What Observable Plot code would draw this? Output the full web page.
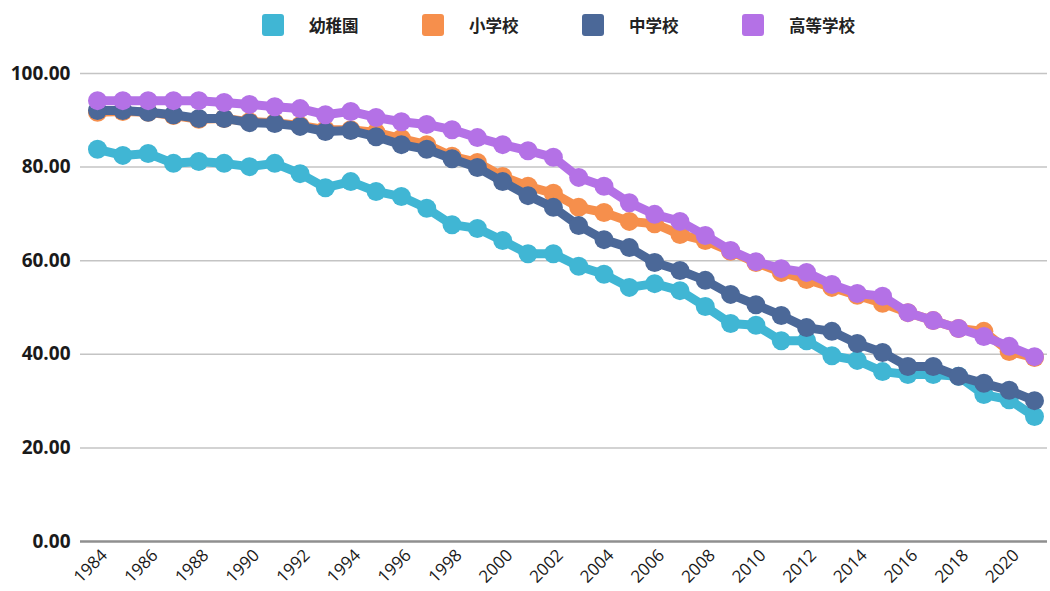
<!DOCTYPE html>
<html>
<head>
<meta charset="utf-8">
<script src="https://cdn.jsdelivr.net/npm/d3@7"></script>
<script src="https://cdn.jsdelivr.net/npm/@observablehq/plot@0.6"></script>
<style>
  html, body { margin: 0; padding: 0; background: #fff; }
  body { width: 1050px; height: 591px; overflow: hidden; font-family: "Open Sans", "Noto Sans CJK JP", sans-serif; }
  #legend { height: 50px; display: flex; align-items: center; justify-content: flex-start; padding-left: 262px; box-sizing: border-box; font-family: "Noto Sans CJK JP", sans-serif; font-weight: 700; font-size: 16.5px; color: #222; }
  .item { display: flex; align-items: center; width: 160px; }
  .sw { width: 22px; height: 22px; border-radius: 3px; margin-right: 25px; }
  #chart svg { display: block; }
</style>
</head>
<body>
<div id="legend"></div>
<div id="chart"></div>
<script>
const years = d3.range(1984, 2022);
const seriesNames = ["幼稚園", "小学校", "中学校", "高等学校"];
const seriesColors = ["#40b6d4", "#f68f4c", "#4b6898", "#b471e6"];

const kindergarten = [83.8, 82.5, 82.9, 80.8, 81.2, 80.8, 80.1, 80.8, 78.6, 75.6,
  76.9, 74.8, 73.7, 71.2, 67.7, 66.9, 64.3, 61.5, 61.5, 58.8,
  57.1, 54.3, 55.1, 53.6, 50.2, 46.6, 46.2, 42.9, 42.9, 39.7,
  38.7, 36.3, 35.7, 35.7, 35.3, 31.4, 30.3, 26.7];
const elementary = [91.7, 91.9, 91.7, 91.0, 90.2, 90.4, 89.7, 89.5, 88.9, 88.0,
  88.0, 87.4, 86.1, 84.8, 82.3, 81.0, 78.0, 75.9, 74.4, 71.4,
  70.3, 68.4, 67.9, 65.6, 64.3, 62.0, 59.6, 57.5, 56.0, 54.3,
  52.6, 50.9, 48.9, 47.2, 45.5, 44.9, 40.6, 39.3];
const juniorHigh = [92.1, 92.1, 91.7, 91.2, 90.4, 90.4, 89.5, 89.3, 88.7, 87.6,
  87.8, 86.5, 84.8, 83.8, 81.8, 79.9, 76.9, 73.9, 71.4, 67.5,
  64.5, 62.8, 59.6, 57.9, 55.8, 52.8, 50.6, 48.3, 45.7, 44.9,
  42.3, 40.4, 37.4, 37.4, 35.3, 33.8, 32.3, 30.1];
const highSchool = [94.2, 94.2, 94.2, 94.2, 94.2, 93.8, 93.4, 92.9, 92.5, 91.2,
  91.9, 90.6, 89.7, 89.1, 88.0, 86.3, 84.8, 83.5, 82.1, 77.8,
  75.9, 72.4, 69.9, 68.4, 65.4, 62.2, 59.8, 58.3, 57.5, 54.9,
  53.0, 52.4, 48.9, 47.2, 45.5, 43.8, 41.7, 39.5];

const xTicks = d3.range(1984, 2021, 2);
const yTicks = [0, 20, 40, 60, 80, 100];

const allSeries = [kindergarten, elementary, juniorHigh, highSchool];

// legend
const legend = document.getElementById("legend");
seriesNames.forEach((n, i) => {
  const it = document.createElement("div");
  it.className = "item";
  const sw = document.createElement("div");
  sw.className = "sw";
  sw.style.background = seriesColors[i];
  const lb = document.createElement("span");
  lb.textContent = n;
  it.appendChild(sw); it.appendChild(lb);
  legend.appendChild(it);
});

const seriesMarks = [];
allSeries.forEach((vals, i) => {
  const data = years.map((y, j) => ({year: y, value: vals[j]}));
  seriesMarks.push(Plot.line(data, {x: "year", y: "value", stroke: seriesColors[i], strokeWidth: 9, curve: "linear"}));
  seriesMarks.push(Plot.dot(data, {x: "year", y: "value", fill: seriesColors[i], r: 9.5, stroke: "none"}));
});

const chart = Plot.plot({
  width: 1050,
  height: 541,
  marginLeft: 80,
  marginRight: 3,
  marginTop: 23,
  marginBottom: 50,
  style: {fontFamily: "'Open Sans', sans-serif", color: "#1a1a1a", background: "#fff"},
  x: {domain: [1984, 2021], insetLeft: 17, insetRight: 13},
  y: {domain: [0, 100]},
  marks: [
    Plot.ruleY(yTicks.filter(d => d > 0), {stroke: "#c4c4c4", strokeWidth: 1.5}),
    Plot.ruleY([0], {stroke: "#8f8f8f", strokeWidth: 2.5}),
    ...seriesMarks,
    Plot.axisY({ticks: yTicks, tickFormat: d3.format(".2f"), tickSize: 0, tickPadding: 10, label: null, fontSize: 19, fontWeight: 700}),
    Plot.axisX({ticks: xTicks, tickFormat: d => String(d), tickRotate: -45, tickSize: 0, tickPadding: 11, dx: 7, label: null, fontSize: 17, fontWeight: 500})
  ]
});
document.getElementById("chart").appendChild(chart);
</script>
</body>
</html>
